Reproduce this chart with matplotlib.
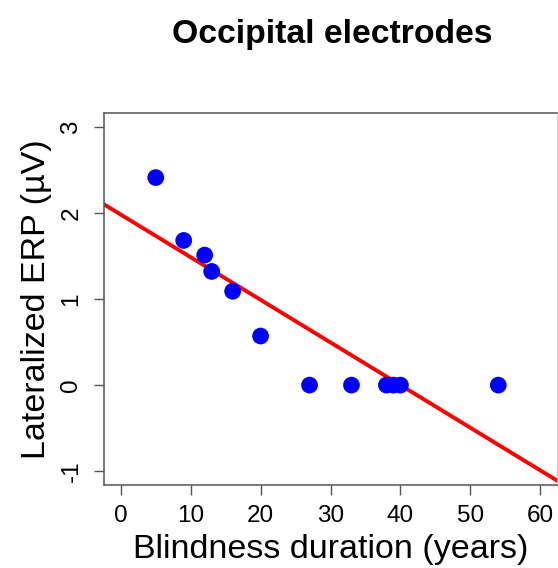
import matplotlib
matplotlib.use("Agg")
import matplotlib.pyplot as plt

plt.rcParams["font.family"] = ["Liberation Sans", "DejaVu Sans"]

# blindness duration (years) and lateralized ERP (uV)
duration = [5, 9, 12, 13, 16, 20, 27, 33, 38, 39, 40, 54]
erp = [2.41, 1.68, 1.51, 1.32, 1.09, 0.57, 0.0, 0.0, 0.0, 0.0, 0.0, 0.0]

# regression line
intercept = 1.98
slope = -0.0495

x_ticks = [0, 10, 20, 30, 40, 50, 60]
y_ticks = [-1, 0, 1, 2, 3]


def main():
    fig = plt.figure(figsize=(5.58, 5.68), dpi=100)
    ax = fig.add_axes([104 / 558, 1 - 485 / 568, 453 / 558, 372 / 568])

    ax.scatter(duration, erp, s=145, color="#0000ff", edgecolors="none", zorder=3)
    ax.axline((0, intercept), slope=slope, color="#ff0000", lw=2.8, zorder=2)

    ax.set_xlim(-2.4, 62.4)
    ax.set_ylim(-1.16, 3.16)
    ax.set_xticks(x_ticks)
    ax.set_yticks(y_ticks)
    ax.set_yticklabels([str(v) for v in y_ticks], rotation=90, va="center")
    ax.tick_params(direction="out", length=7.5, width=1, color="#555555",
                   labelsize=17.5)
    ax.tick_params(axis="x", pad=7)
    ax.tick_params(axis="y", pad=8)

    for side in ["left", "bottom", "top"]:
        ax.spines[side].set_color("#555555")
        ax.spines[side].set_linewidth(1.1)
    ax.spines["right"].set_color("#cccccc")

    ax.set_xlabel("Blindness duration (years)", fontsize=24.5, labelpad=5)
    ax.set_ylabel("Lateralized ERP (\u00b5V)", fontsize=24.5, labelpad=6)
    fig.text(0.595, 1 - 43 / 568, "Occipital electrodes", fontsize=24.3,
             fontweight="bold", ha="center", va="baseline")

    fig.savefig("out.png", dpi=100)


if __name__ == "__main__":
    main()
